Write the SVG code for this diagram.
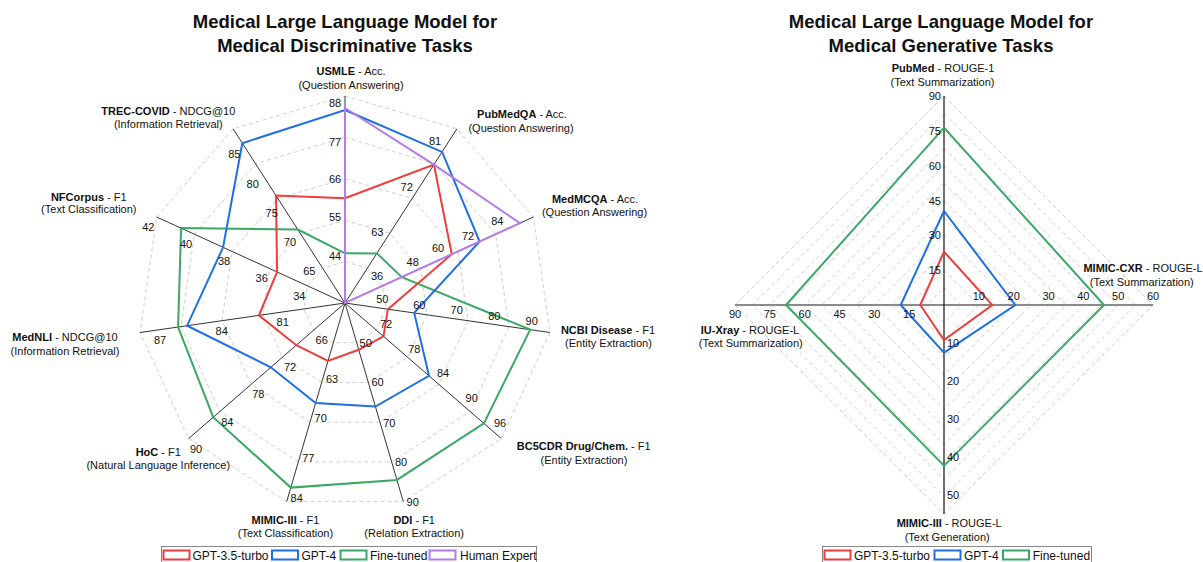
<svg xmlns="http://www.w3.org/2000/svg" width="1203" height="562" viewBox="0 0 1203 562">
<style>
text{font-family:"Liberation Sans",Arial,sans-serif;fill:#111}
.title{font-size:18.5px;font-weight:bold;text-anchor:middle}
.name{font-size:11px;text-anchor:middle}
.b{font-weight:bold}
.tk{font-size:11px;text-anchor:middle}
.tkE{font-size:11px;text-anchor:end}
.tkS{font-size:11px;text-anchor:start}
.ring{fill:none;stroke:#cfcfcf;stroke-width:1;stroke-dasharray:4 3}
.axis{stroke:#333;stroke-width:1}
.ser{fill:none;stroke-width:2;stroke-linejoin:miter}
.red{stroke:#f03c3c}.blue{stroke:#1e6fe6}.green{stroke:#3aa865}.purple{stroke:#b57be6}
.leg{font-size:12px}
.lbox{fill:#fff;stroke:#888;stroke-width:1}
</style>

<g id="left-chart">
  <g id="left-title">
    <text class="title" x="345" y="28">Medical Large Language Model for</text>
    <text class="title" x="345" y="52">Medical Discriminative Tasks</text>
  </g>
  <g id="left-grid">
    <polygon class="ring" points="345,261.6 367.4,268.2 382.7,285.8 386,308.9 376.3,330.1 356.7,342.7 333.3,342.7 313.7,330.1 304,308.9 307.3,285.8 322.6,268.2"/>
    <polygon class="ring" points="345,220.2 389.8,233.3 420.3,268.6 427,314.8 407.6,357.2 368.3,382.4 321.7,382.4 282.4,357.2 263,314.8 269.7,268.6 300.2,233.3"/>
    <polygon class="ring" points="345,178.8 412.1,198.5 458,251.4 467.9,320.7 438.9,384.3 380,422.2 310,422.2 251.1,384.3 222.1,320.7 232,251.4 277.9,198.5"/>
    <polygon class="ring" points="345,137.4 434.5,163.7 495.6,234.2 508.9,326.6 470.1,411.5 391.6,461.9 298.4,461.9 219.9,411.5 181.1,326.6 194.4,234.2 255.5,163.7"/>
    <polygon class="ring" points="345,96 456.9,128.8 533.3,217 549.9,332.5 501.4,438.6 403.3,501.6 286.7,501.6 188.6,438.6 140.1,332.5 156.7,217 233.1,128.8"/>
  </g>
  <g id="left-axes">
    <line class="axis" x1="345" y1="303" x2="345" y2="96"/>
    <line class="axis" x1="345" y1="303" x2="456.9" y2="128.8"/>
    <line class="axis" x1="345" y1="303" x2="533.3" y2="217"/>
    <line class="axis" x1="345" y1="303" x2="549.9" y2="332.5"/>
    <line class="axis" x1="345" y1="303" x2="501.4" y2="438.6"/>
    <line class="axis" x1="345" y1="303" x2="403.3" y2="501.6"/>
    <line class="axis" x1="345" y1="303" x2="286.7" y2="501.6"/>
    <line class="axis" x1="345" y1="303" x2="188.6" y2="438.6"/>
    <line class="axis" x1="345" y1="303" x2="140.1" y2="332.5"/>
    <line class="axis" x1="345" y1="303" x2="156.7" y2="217"/>
    <line class="axis" x1="345" y1="303" x2="233.1" y2="128.8"/>
  </g>
  <g id="left-series">
    <polygon class="ser green" points="345,253.3 376.9,253.4 401.8,277.1 530.2,329.6 483.9,423.4 396.9,479.9 290.8,487.6 213.2,417.2 178.1,327 181.1,228.1 297.9,229.6"/>
    <polygon class="ser blue" points="345,110 442.1,151.9 479.6,241.5 414.2,312.9 429,375.8 375.4,406.6 315.6,403 270.8,367.3 187.1,325.7 223.1,247.3 242.3,143.2"/>
    <polygon class="ser red" points="345,198.3 433.9,164.6 451.8,254.2 387.9,309.2 383.5,336.4 358.7,349.8 328,361 296.3,345.2 258.9,315.4 277.1,272 276,195.6"/>
    <polygon class="ser purple" points="345,303 345,108 433.9,164.6 519.9,223.1"/>
  </g>
  <g id="left-ticks">
    <text class="tk" x="335" y="107.3">88</text><text class="tk" x="335" y="145.7">77</text><text class="tk" x="335" y="183.3">66</text><text class="tk" x="335" y="221">55</text><text class="tk" x="335" y="260">44</text>
    <text class="tk" x="435" y="145">81</text><text class="tk" x="406.7" y="191">72</text><text class="tk" x="377.3" y="235.5">63</text>
    <text class="tk" x="497.3" y="225">84</text><text class="tk" x="468" y="239.7">72</text><text class="tk" x="438" y="252.3">60</text><text class="tk" x="412.7" y="266.3">48</text><text class="tk" x="377" y="280">36</text>
    <text class="tk" x="382.3" y="303">50</text><text class="tk" x="419.3" y="308.5">60</text><text class="tk" x="456.7" y="314">70</text><text class="tk" x="494.3" y="319.7">80</text><text class="tk" x="531.7" y="325">90</text>
    <text class="tk" x="386" y="328">72</text><text class="tk" x="414.3" y="353">78</text><text class="tk" x="443" y="377.3">84</text><text class="tk" x="471.7" y="402.3">90</text><text class="tk" x="500" y="426.7">96</text>
    <text class="tk" x="365.7" y="346.7">50</text><text class="tk" x="377.5" y="386">60</text><text class="tk" x="389.3" y="426.7">70</text><text class="tk" x="401" y="466.3">80</text><text class="tk" x="412.7" y="505.7">90</text>
    <text class="tk" x="332" y="383">63</text><text class="tk" x="320.7" y="422.3">70</text><text class="tk" x="308.3" y="462.3">77</text><text class="tk" x="296.7" y="502.3">84</text>
    <text class="tk" x="321.7" y="344">66</text><text class="tk" x="290" y="370.7">72</text><text class="tk" x="258.3" y="398.3">78</text><text class="tk" x="227.3" y="425.7">84</text><text class="tk" x="196" y="453">90</text>
    <text class="tk" x="282.7" y="326.3">81</text><text class="tk" x="221.7" y="335">84</text><text class="tk" x="160" y="344">87</text>
    <text class="tk" x="299.3" y="300">34</text><text class="tk" x="261.7" y="282.3">36</text><text class="tk" x="224" y="265">38</text><text class="tk" x="186" y="248.3">40</text><text class="tk" x="148.3" y="230.7">42</text>
    <text class="tk" x="309.3" y="275">65</text><text class="tk" x="290" y="245.7">70</text><text class="tk" x="271.7" y="217.3">75</text><text class="tk" x="252.7" y="188">80</text><text class="tk" x="234.3" y="158">85</text>
  </g>
  <g id="left-names">
    <text class="name" x="351" y="75"><tspan class="b">USMLE</tspan> - Acc.</text>
    <text class="name" x="351" y="89">(Question Answering)</text>
    <text class="name" x="522" y="118.3"><tspan class="b">PubMedQA</tspan> - Acc.</text>
    <text class="name" x="521" y="131.7">(Question Answering)</text>
    <text class="name" x="595" y="203"><tspan class="b">MedMCQA</tspan> - Acc.</text>
    <text class="name" x="594.5" y="216.3">(Question Answering)</text>
    <text class="name" x="608" y="334"><tspan class="b">NCBI Disease</tspan> - F1</text>
    <text class="name" x="608.5" y="347.3">(Entity Extraction)</text>
    <text class="name" x="583.7" y="450"><tspan class="b">BC5CDR Drug/Chem.</tspan> - F1</text>
    <text class="name" x="584" y="464">(Entity Extraction)</text>
    <text class="name" x="414.2" y="524"><tspan class="b">DDI</tspan> - F1</text>
    <text class="name" x="414.2" y="537.3">(Relation Extraction)</text>
    <text class="name" x="285.4" y="524"><tspan class="b">MIMIC-III</tspan> - F1</text>
    <text class="name" x="285.4" y="537.3">(Text Classification)</text>
    <text class="name" x="158.3" y="456.3"><tspan class="b">HoC</tspan> - F1</text>
    <text class="name" x="158.3" y="469">(Natural Language Inference)</text>
    <text class="name" x="65" y="341.3"><tspan class="b">MedNLI</tspan> - NDCG@10</text>
    <text class="name" x="65" y="355">(Information Retrieval)</text>
    <text class="name" x="88.8" y="200.7"><tspan class="b">NFCorpus</tspan> - F1</text>
    <text class="name" x="88.8" y="213.3">(Text Classification)</text>
    <text class="name" x="168.3" y="114.7"><tspan class="b">TREC-COVID</tspan> - NDCG@10</text>
    <text class="name" x="168.3" y="128">(Information Retrieval)</text>
  </g>
  <g id="left-legend">
    <rect class="lbox" x="161.5" y="546.5" width="375" height="20"/>
    <rect class="red" x="163.5" y="550.5" width="26" height="9" fill="none" stroke-width="2"/>
    <text class="leg" x="192.5" y="559.5">GPT-3.5-turbo</text>
    <rect class="blue" x="272" y="550.5" width="26" height="9" fill="none" stroke-width="2"/>
    <text class="leg" x="301.5" y="559.5">GPT-4</text>
    <rect class="green" x="340.5" y="550.5" width="26" height="9" fill="none" stroke-width="2"/>
    <text class="leg" x="370" y="559.5">Fine-tuned</text>
    <rect class="purple" x="429.5" y="550.5" width="26" height="9" fill="none" stroke-width="2"/>
    <text class="leg" x="460" y="559.5">Human Expert</text>
  </g>
</g>

<g id="right-chart">
  <g id="right-title">
    <text class="title" x="941" y="28">Medical Large Language Model for</text>
    <text class="title" x="941" y="52">Medical Generative Tasks</text>
  </g>
  <g id="right-grid">
    <polygon class="ring" points="944,287.6 961.4,305 944,322.4 926.6,305"/>
    <polygon class="ring" points="944,270.2 978.8,305 944,339.8 909.2,305"/>
    <polygon class="ring" points="944,252.7 996.3,305 944,357.3 891.7,305"/>
    <polygon class="ring" points="944,235.3 1013.7,305 944,374.7 874.3,305"/>
    <polygon class="ring" points="944,217.9 1031.1,305 944,392.1 856.9,305"/>
    <polygon class="ring" points="944,200.5 1048.5,305 944,409.5 839.5,305"/>
    <polygon class="ring" points="944,183.1 1065.9,305 944,426.9 822.1,305"/>
    <polygon class="ring" points="944,165.7 1083.3,305 944,444.3 804.7,305"/>
    <polygon class="ring" points="944,148.2 1100.8,305 944,461.8 787.2,305"/>
    <polygon class="ring" points="944,130.8 1118.2,305 944,479.2 769.8,305"/>
    <polygon class="ring" points="944,113.4 1135.6,305 944,496.6 752.4,305"/>
    <polygon class="ring" points="944,96 1153,305 944,514 735,305"/>
  </g>
  <g id="right-axes">
    <line x1="735" y1="305" x2="1153" y2="305" stroke="#8a8a8a" stroke-width="2.2"/>
    <line x1="944" y1="96" x2="944" y2="514" stroke="#111" stroke-width="1.2"/>
  </g>
  <g id="right-series">
    <polygon class="ser green" points="944,127.7 1104,305 944,465.7 786,305"/>
    <polygon class="ser blue" points="944,211 1015.3,305 944,352.7 900.7,305"/>
    <polygon class="ser red" points="944,251.7 992.3,305 944,340 920.3,305"/>
  </g>
  <g id="right-ticks">
    <text class="tkE" x="941" y="274.2">15</text><text class="tkE" x="941" y="239.3">30</text><text class="tkE" x="941" y="204.5">45</text><text class="tkE" x="941" y="169.7">60</text><text class="tkE" x="941" y="134.8">75</text><text class="tkE" x="941" y="100">90</text>
    <text class="tk" x="909.2" y="318">15</text><text class="tk" x="874.3" y="318">30</text><text class="tk" x="839.5" y="318">45</text><text class="tk" x="804.7" y="318">60</text><text class="tk" x="769.8" y="318">75</text><text class="tk" x="735" y="318">90</text>
    <text class="tk" x="978.8" y="299.7">10</text><text class="tk" x="1013.7" y="299.7">20</text><text class="tk" x="1048.5" y="299.7">30</text><text class="tk" x="1083.3" y="299.7">40</text><text class="tk" x="1118.2" y="299.7">50</text><text class="tk" x="1153" y="299.7">60</text>
    <text class="tkS" x="947" y="347">10</text><text class="tkS" x="947" y="385">20</text><text class="tkS" x="947" y="423">30</text><text class="tkS" x="947" y="461">40</text><text class="tkS" x="947" y="499">50</text>
  </g>
  <g id="right-names">
    <text class="name" x="943" y="72.3"><tspan class="b">PubMed</tspan> - ROUGE-1</text>
    <text class="name" x="942.5" y="85.7">(Text Summarization)</text>
    <text class="name" x="1143" y="272.3"><tspan class="b">MIMIC-CXR</tspan> - ROUGE-L</text>
    <text class="name" x="1141.8" y="285.7">(Text Summarization)</text>
    <text class="name" x="750" y="334"><tspan class="b">IU-Xray</tspan> - ROUGE-L</text>
    <text class="name" x="750.8" y="347.3">(Text Summarization)</text>
    <text class="name" x="949.2" y="527.3"><tspan class="b">MIMIC-III</tspan> - ROUGE-L</text>
    <text class="name" x="947.2" y="540.7">(Text Generation)</text>
  </g>
  <g id="right-legend">
    <rect class="lbox" x="822.5" y="546.5" width="269" height="20"/>
    <rect class="red" x="824.5" y="550.5" width="26" height="9" fill="none" stroke-width="2"/>
    <text class="leg" x="854" y="559.5">GPT-3.5-turbo</text>
    <rect class="blue" x="934.5" y="550.5" width="26" height="9" fill="none" stroke-width="2"/>
    <text class="leg" x="964" y="559.5">GPT-4</text>
    <rect class="green" x="1003" y="550.5" width="26" height="9" fill="none" stroke-width="2"/>
    <text class="leg" x="1032.7" y="559.5">Fine-tuned</text>
  </g>
</g>
</svg>
